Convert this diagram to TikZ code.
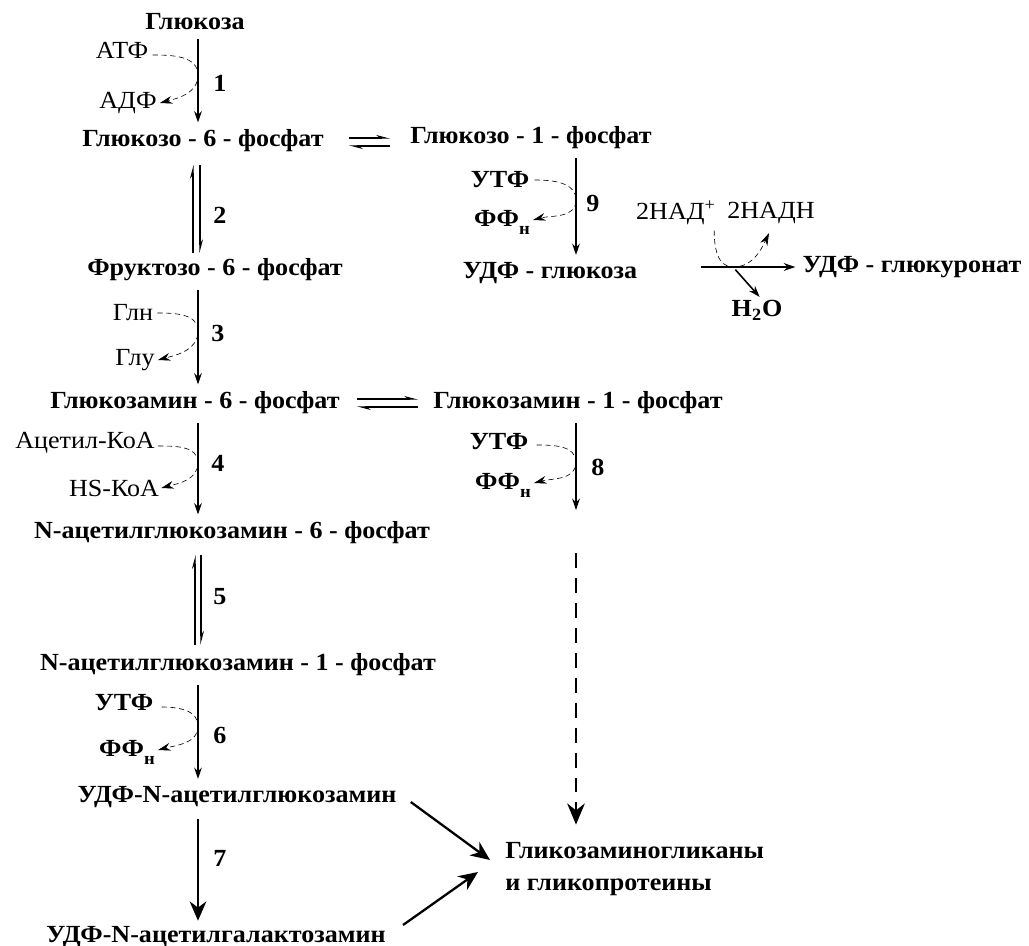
\documentclass[tikz,border=0pt]{standalone}
\usepackage{fontspec}
\setmainfont{Liberation Serif}[FakeStretch=1.06]
\usetikzlibrary{arrows.meta,calc,positioning}
\newcommand{\ffn}{ФФ\raisebox{-0.7ex}{\fontsize{10}{12}\selectfont н}}
\tikzset{
  met/.style={font=\bfseries\fontsize{14}{18}\selectfont, inner sep=0pt},
  cof/.style={font=\fontsize{14}{18}\selectfont, inner sep=0pt},
  num/.style={font=\bfseries\fontsize{14}{18}\selectfont, inner sep=0pt},
  rxn/.style={-{Stealth[length=6.5pt,width=4.4pt]}, line width=0.9pt,
    shorten <=5pt, shorten >=4pt},
  side/.style={densely dashed, line width=0.35pt,
    -{Stealth[length=7pt,width=4.4pt]}},
  eqf/.style={-{Stealth[harpoon,length=6.5pt,width=3.4pt]}, line width=0.7pt},
  fat/.style={-{Stealth[length=11pt,width=9.5pt]}, line width=1.3pt},
  dsh/.style={-{Stealth[length=12pt,width=10pt]}, line width=1.4pt,
    dash pattern=on 8.5pt off 5.7pt}
}
\begin{document}
\begin{tikzpicture}[x=0.02cm,y=0.02cm]
\useasboundingbox (0,0) rectangle (1029,-946);
\coordinate (ax) at (198,0);
\coordinate (bx) at (576,0);

% main chain
\node[met] (glc) at (195,-22) {Глюкоза};
\node[met] (g6p) at (203,-141) {Глюкозо - 6 - фосфат};
\node[met] (g1p) at (531,-138) {Глюкозо - 1 - фосфат};
\node[met] (f6p) at (215,-270) {Фруктозо - 6 - фосфат};
\node[met] (udpg) at (550,-273) {УДФ - глюкоза};
\node[met] (udpga) at (912,-267) {УДФ - глюкуронат};
\node[met] (gn6p) at (195,-403) {Глюкозамин - 6 - фосфат};
\node[met] (gn1p) at (578,-403) {Глюкозамин - 1 - фосфат};
\node[met] (nag6p) at (232,-533) {N-ацетилглюкозамин - 6 - фосфат};
\node[met] (nag1p) at (238,-665) {N-ацетилглюкозамин - 1 - фосфат};
\node[met] (udpnag) at (237,-797) {УДФ-N-ацетилглюкозамин};
\node[met] (udpgal) at (216,-937) {УДФ-N-ацетилгалактозамин};
\node[met,align=left,anchor=west] (gag) at (505,-869)
  {Гликозаминогликаны\\и гликопротеины};

% cofactors
\node[cof] (atf) at (122,-50) {АТФ};
\node[cof] (adf) at (128,-103) {АДФ};
\node[met] (utf9) at (500,-180) {УТФ};
\node[met] (ffn9) at (502,-222) {\ffn};
\node[cof] (nad) at (676,-213) {2НАД\textsuperscript{+}};
\node[cof] (nadh) at (771,-213) {2НАДН};
\node[met] (h2o) at (757,-310) {H\textsubscript{2}O};
\node[cof] (gln) at (133,-313) {Глн};
\node[cof] (glu) at (135,-360) {Глу};
\node[met] (utf8) at (499,-442) {УТФ};
\node[met] (ffn8) at (503,-485) {\ffn};
\node[cof] (acoa) at (85,-443) {Ацетил-КоА};
\node[cof] (hskoa) at (114,-488) {HS-КоА};
\node[met] (utf6) at (124,-703) {УТФ};
\node[met] (ffn6) at (127,-752) {\ffn};

% step numbers
\node[num] (n1) at (220,-83) {1};
\node[num] (n2) at (220,-215) {2};
\node[num] (n3) at (218,-333) {3};
\node[num] (n4) at (218,-463) {4};
\node[num] (n5) at (220,-597) {5};
\node[num] (n6) at (220,-735) {6};
\node[num] (n7) at (220,-858) {7};
\node[num] (n8) at (598,-467) {8};
\node[num] (n9) at (593,-203) {9};

% one-way steps
\draw[rxn] (glc.south -| ax) -- (g6p.north -| ax);
\draw[rxn] (f6p.south -| ax) -- (gn6p.north -| ax);
\draw[rxn] (gn6p.south -| ax) -- (nag6p.north -| ax);
\draw[rxn] (nag1p.south -| ax) -- (udpnag.north -| ax);
\draw[fat, shorten <=6pt, shorten >=3pt] (udpnag.south -| ax) -- (udpgal.north -| ax);
\draw[rxn] (g1p.south -| bx) -- (udpg.north -| bx);
\coordinate (e8) at (576,-510);
\coordinate (d8) at (576,-553);
\draw[rxn, shorten >=0pt] (gn1p.south -| bx) -- (e8);
\draw[dsh, shorten >=10pt] (d8) -- (gag.north -| bx);
\draw[rxn, shorten <=36pt] (udpg.east |- udpga.west) -- (udpga.west);
\draw[fat] ($(udpnag.east)+(14,-5)$) -- ($(gag.west)+(-15,9)$);
\draw[fat] ($(udpgal.east)+(17,12)$) -- ($(gag.west)+(-27,-3)$);

% reversible steps
\draw[eqf] ($(g6p.east)+(25,3)$) -- ($(g1p.west |- g6p.east)+(-20,3)$);
\draw[eqf] ($(g1p.west |- g6p.east)+(-20,-5)$) -- ($(g6p.east)+(25,-5)$);
\draw[eqf] ($(gn6p.east)+(17,4)$) -- ($(gn1p.west |- gn6p.east)+(-15,4)$);
\draw[eqf] ($(gn1p.west |- gn6p.east)+(-15,-4)$) -- ($(gn6p.east)+(17,-4)$);
\draw[eqf, shorten <=3pt, shorten >=7pt] ($(f6p.north -| ax)+(-5,0)$) -- ($(g6p.south -| ax)+(-5,0)$);
\draw[eqf, shorten <=7pt, shorten >=3pt] ($(g6p.south -| ax)+(2,0)$) -- ($(f6p.north -| ax)+(2,0)$);
\draw[eqf, shorten <=5pt, shorten >=6pt] ($(nag1p.north -| ax)+(-3,0)$) -- ($(nag6p.south -| ax)+(-3,0)$);
\draw[eqf, shorten <=6pt, shorten >=5pt] ($(nag6p.south -| ax)+(3,0)$) -- ($(nag1p.north -| ax)+(3,0)$);

% cofactor curves
\coordinate (m1) at ($(glc.south -| ax)!0.45!(g6p.north -| ax)$);
\draw[side] ($(atf.east)+(4,-5)$) to[out=0,in=90] (m1) to[out=-90,in=15] ($(adf.east)+(3,0)$);
\coordinate (m3) at ($(f6p.south -| ax)!0.45!(gn6p.north -| ax)$);
\draw[side] ($(gln.east)+(4,0)$) to[out=0,in=90] (m3) to[out=-90,in=15] ($(glu.east)+(3,0)$);
\coordinate (m4) at ($(gn6p.south -| ax)!0.45!(nag6p.north -| ax)$);
\draw[side] ($(acoa.east)+(3,-3)$) to[out=0,in=90] (m4) to[out=-90,in=15] ($(hskoa.east)+(2,0)$);
\coordinate (m6) at ($(nag1p.south -| ax)!0.45!(udpnag.north -| ax)$);
\draw[side] ($(utf6.east)+(8,-4)$) to[out=0,in=90] (m6) to[out=-90,in=15] ($(ffn6.east)+(3,2)$);
\coordinate (m9) at ($(g1p.south -| bx)!0.45!(udpg.north -| bx)$);
\draw[side] ($(utf9.east)+(5,0)$) to[out=0,in=90] (m9) to[out=-90,in=15] ($(ffn9.east)+(3,2)$);
\coordinate (m8) at ($(gn1p.south -| bx)!0.5!(e8)$);
\draw[side] ($(utf8.east)+(8,-3)$) to[out=0,in=90] (m8) to[out=-90,in=15] ($(ffn8.east)+(3,2)$);

% glucuronate step
\coordinate (mg) at (733,-267);
\draw[side] ($(nad.south east)+(-2,-5)$) to[out=-90,in=180] (mg) to[out=0,in=-115] ($(nadh.south west)+(42,-9)$);
\draw[rxn, shorten <=2pt, shorten >=2pt] (mg) -- ($(h2o.north)+(5,0)$);
\end{tikzpicture}
\end{document}
